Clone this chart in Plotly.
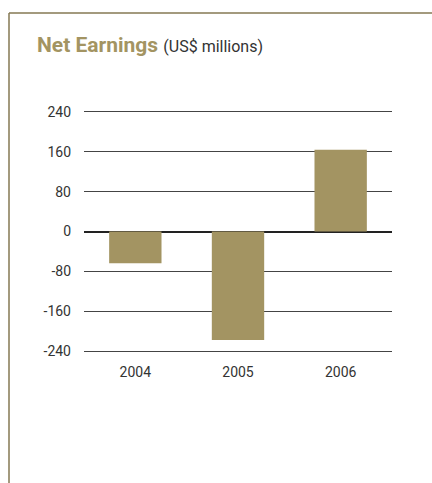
import plotly.graph_objects as go

# Net earnings by year, US$ millions
years = ["2004", "2005", "2006"]
net_earnings = [-64, -218, 164]
y_ticks = [-240, -160, -80, 0, 80, 160, 240]

GOLD = "#a39462"
FRAME = "#857853"
TEXT = "#333333"

fig = go.Figure(
    go.Bar(
        x=years,
        y=net_earnings,
        marker=dict(color=GOLD, line=dict(width=0)),
        width=0.51,
        hoverinfo="x+y",
    )
)

# plot area spans pixels x 84..392, y 110..353 (range padded so edge gridlines show)
W, H = 432, 483
L, R, T, B = 84, 40, 110, 130
pw = W - L - R
ph = H - T - B
Y_LIM = 244


def px_x(px):
    return (px - L) / pw


def px_y(py):
    return (H - B - py) / ph


fig.update_layout(
    width=W,
    height=H,
    margin=dict(l=L, r=R, t=T, b=B),
    paper_bgcolor="white",
    plot_bgcolor="white",
    showlegend=False,
    font=dict(family="Roboto, DejaVu Sans", size=14, color=TEXT),
    xaxis=dict(
        showgrid=False,
        showline=False,
        zeroline=False,
        ticks="",
        ticklabelstandoff=9,
        tickfont=dict(size=14, color=TEXT),
        fixedrange=True,
    ),
    yaxis=dict(
        range=[-Y_LIM, Y_LIM],
        tickvals=y_ticks,
        ticktext=[str(v) for v in y_ticks],
        showgrid=True,
        gridcolor="#444444",
        gridwidth=1.4,
        zeroline=True,
        zerolinecolor="#222222",
        zerolinewidth=1.8,
        showline=False,
        ticks="",
        ticklabelstandoff=12,
        tickfont=dict(size=14, color=TEXT),
        fixedrange=True,
    ),
    annotations=[
        dict(
            xref="paper",
            yref="paper",
            x=px_x(35),
            y=px_y(45),
            xanchor="left",
            yanchor="middle",
            showarrow=False,
            text=(
                "<b>Net Earnings</b> "
                f"<span style='font-size:16px;color:{TEXT}'>(US$ millions)</span>"
            ),
            font=dict(family="Roboto, DejaVu Sans", size=21, color=GOLD),
        )
    ],
    shapes=[
        # frame: top rule and left rule
        dict(
            type="line",
            xref="paper",
            yref="paper",
            x0=px_x(9),
            x1=px_x(440),
            y0=px_y(13),
            y1=px_y(13),
            line=dict(color=FRAME, width=1.5),
            layer="above",
        ),
        dict(
            type="line",
            xref="paper",
            yref="paper",
            x0=px_x(9),
            x1=px_x(9),
            y0=px_y(13),
            y1=px_y(490),
            line=dict(color=FRAME, width=1.5),
            layer="above",
        ),
    ],
)

fig.write_html("out.html")
